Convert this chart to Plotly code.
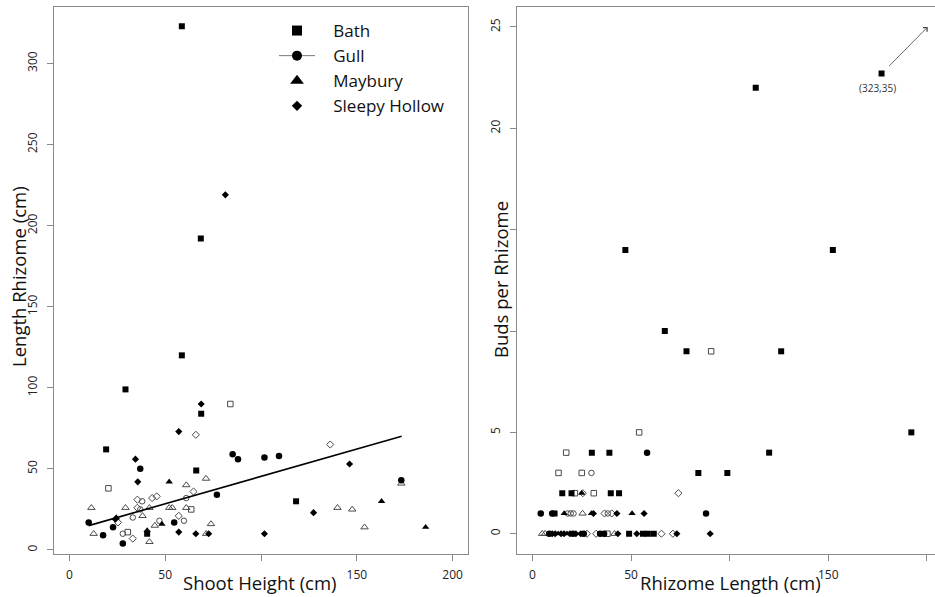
import plotly.graph_objects as go

# ---------------- data: left panel (Shoot Height vs Length Rhizome) ----------------
bath_f_x = [58.7, 68.6, 58.7, 29.3, 68.8, 19.2, 66.2, 118.3, 40.6]
bath_f_y = [323, 192, 120, 99, 84, 62, 49, 30, 10]
bath_o_x = [84.0, 20.4, 63.6, 30.5]
bath_o_y = [90, 38, 25, 11]
gull_f_x = [10.1, 17.6, 22.8, 27.9, 37.0, 54.7, 77.0, 85.2, 88.0, 101.8, 109.4, 173.2]
gull_f_y = [17, 9, 14, 4, 50, 17, 34, 59, 56, 57, 58, 43]
gull_o_x = [61.0, 38.0, 37.0, 33.1, 27.9, 47.0, 59.8]
gull_o_y = [32, 30, 25, 20, 10, 18, 18]
may_f_x = [52.1, 24.5, 40.6, 48.3, 162.9, 185.9]
may_f_y = [42, 20, 12, 16, 30, 14]
may_o_x = [71.3, 61.0, 11.5, 29.3, 41.8, 52.1, 53.7, 61.0, 38.2, 12.7, 41.8, 44.6,
           73.9, 71.4, 173.2, 139.9, 147.6, 154.0]
may_o_y = [44, 40, 26, 26, 26, 26, 26, 26, 21, 10, 5, 15, 16, 10, 41, 26, 25, 14]
sh_f_x = [81.4, 68.8, 57.1, 34.5, 35.7, 24.0, 57.1, 66.0, 72.7, 146.2, 127.4, 101.8]
sh_f_y = [219, 90, 73, 56, 42, 19, 11, 10, 10, 53, 23, 10]
sh_o_x = [66.0, 64.8, 35.5, 43.2, 45.6, 35.5, 25.4, 33.1, 57.1, 136.1]
sh_o_y = [71, 36, 31, 32, 33, 26, 17, 7, 21, 65]
fit_x = [10.1, 173.4]
fit_y = [15.0, 70.1]

# ---------------- data: right panel (Rhizome Length vs Buds per Rhizome) ----------------
r_bath_f_x = [177.0, 113.2, 152.3, 47.1, 67.1, 78.1, 126.1, 192.1, 120.0, 30.1, 39.0, 84.1,
              98.8, 15.1, 19.8, 39.7, 43.9, 11.2, 49.0, 56.0, 58.5, 61.5]
r_bath_f_y = [22.7, 22, 14, 14, 10, 9, 9, 5, 4, 4, 4, 3, 3, 2, 2, 2, 2, 1, 0, 0, 0, 0]
r_bath_o_x = [90.6, 54.1, 17.1, 13.2, 25.0, 21.5, 31.1, 38.0]
r_bath_o_y = [9, 5, 4, 3, 3, 2, 2, 0]
r_gull_f_x = [58.1, 4.2, 10.0, 88.0, 8.5, 20.5, 26.0, 34.3, 36.3]
r_gull_f_y = [4, 1, 1, 1, 0, 0, 0, 0, 0]
r_gull_o_x = [29.9, 17.9, 19.4, 20.8, 38.2]
r_gull_o_y = [3, 1, 1, 1, 1]
r_may_f_x = [25.0, 16.1, 29.9, 50.5, 13.0, 17.5]
r_may_f_y = [2, 1, 1, 1, 0, 0]
r_may_o_x = [25.4, 4.9, 6.4, 41.6]
r_may_o_y = [1, 0, 0, 0]
r_sh_f_x = [30.9, 42.8, 56.6, 90.1, 10.0, 11.5, 14.5, 16.0, 19.0, 22.0, 24.5, 43.3, 52.9, 73.2]
r_sh_f_y = [1, 1, 1, 0, 0, 0, 0, 0, 0, 0, 0, 0, 0, 0]
r_sh_o_x = [74.0, 25.5, 36.5, 40.2, 27.6, 32.3, 65.4, 71.2]
r_sh_o_y = [2, 2, 1, 1, 0, 0, 0, 0]

outlier_label = "(323,35)"
outlier_at = (175.1, 22.0)
arrow_tail = (180.1, 23.0)
arrow_head = (200.4, 25.0)

site_names = ["Bath", "Gull", "Maybury", "Sleepy Hollow"]

# tick values / labels (labels hidden where the axis titles sit on top of them)
x_ticks = [0, 50, 100, 150, 200]
x_tick_text = ["0", "50", "", "150", "200"]
y1_ticks = [0, 50, 100, 150, 200, 250, 300]
y1_tick_text = ["0", "50", "100", "150", "200", "250", "300"]
y2_ticks = [0, 5, 10, 15, 20, 25]
y2_tick_text = ["0", "5", "", "", "20", "25"]

FONT = "Open Sans"
AX = "#8a8a8a"
INK = "#111111"
OPEN = "#4a4a4a"

fig = go.Figure()

def pts(x, y, sym, size, xa, ya, filled=True):
    if filled:
        marker = dict(symbol=sym, size=size, color="black", line=dict(width=0))
    else:
        marker = dict(symbol=sym + "-open", size=size, color=OPEN, line=dict(width=1, color=OPEN))
    fig.add_trace(go.Scatter(x=x, y=y, mode="markers", marker=marker,
                             xaxis=xa, yaxis=ya, showlegend=False, hoverinfo="x+y"))

# left panel
pts(may_o_x, may_o_y, "triangle-up", 6.5, "x", "y", False)
pts(sh_o_x, sh_o_y, "diamond", 5.5, "x", "y", False)
pts(gull_o_x, gull_o_y, "circle", 5.5, "x", "y", False)
pts(bath_o_x, bath_o_y, "square", 5.5, "x", "y", False)
pts(bath_f_x, bath_f_y, "square", 6, "x", "y")
pts(gull_f_x, gull_f_y, "circle", 6.5, "x", "y")
pts(may_f_x, may_f_y, "triangle-up", 6.5, "x", "y")
pts(sh_f_x, sh_f_y, "diamond", 5.5, "x", "y")
fig.add_trace(go.Scatter(x=fit_x, y=fit_y, mode="lines", line=dict(color="black", width=1.6),
                         xaxis="x", yaxis="y", showlegend=False, hoverinfo="skip"))

# right panel
pts(r_may_o_x, r_may_o_y, "triangle-up", 6.5, "x2", "y2", False)
pts(r_sh_o_x, r_sh_o_y, "diamond", 5.5, "x2", "y2", False)
pts(r_gull_o_x, r_gull_o_y, "circle", 5.5, "x2", "y2", False)
pts(r_bath_o_x, r_bath_o_y, "square", 5.5, "x2", "y2", False)
pts(r_bath_f_x, r_bath_f_y, "square", 6, "x2", "y2")
pts(r_gull_f_x, r_gull_f_y, "circle", 6.5, "x2", "y2")
pts(r_may_f_x, r_may_f_y, "triangle-up", 6.5, "x2", "y2")
pts(r_sh_f_x, r_sh_f_y, "diamond", 5.5, "x2", "y2")

# legend entries
leg_syms = ["square", "circle", "triangle-up", "diamond"]
leg_sizes = [10, 10, 12, 8]
for i, (nm, sy, sz) in enumerate(zip(site_names, leg_syms, leg_sizes)):
    fig.add_trace(go.Scatter(
        x=[None], y=[None], name="\u00a0\u00a0\u00a0" + nm,
        mode="lines+markers" if nm == "Gull" else "markers",
        line=dict(color="#777777", width=1),
        marker=dict(symbol=sy, size=sz, color="black"),
        xaxis="x", yaxis="y", showlegend=True))

W, H = 935, 597
def px(v):
    return v / W
def py(v):
    return (H - v) / H

ydom = [py(554), py(6.7)]
axis_common = dict(showline=True, linecolor=AX, linewidth=1.2, ticks="outside",
                   ticklen=6, tickcolor=AX, tickwidth=1, showgrid=False, zeroline=False,
                   automargin=False, tickmode="array",
                   tickfont=dict(family=FONT, size=12, color="#222222"))

fig.update_layout(
    width=W, height=H, margin=dict(l=0, r=0, t=0, b=0, autoexpand=False),
    paper_bgcolor="white", plot_bgcolor="white",
    font=dict(family=FONT, color=INK),
    xaxis=dict(domain=[px(54), px(468)], range=[-8, 208], tickvals=x_ticks, ticktext=x_tick_text,
               mirror=True, anchor="y", ticklabelstandoff=3, **axis_common),
    yaxis=dict(domain=ydom, range=[-2.5, 335], tickvals=y1_ticks, ticktext=y1_tick_text,
               mirror=True, anchor="x", tickangle=-90, ticklabelstandoff=5, **axis_common),
    xaxis2=dict(domain=[px(516.7), 1.0], range=[-8, 204.1], tickvals=x_ticks, ticktext=x_tick_text,
                mirror=True, anchor="y2", ticklabelstandoff=3, **axis_common),
    yaxis2=dict(domain=ydom, range=[-1, 26], tickvals=y2_ticks, ticktext=y2_tick_text,
                mirror=False, anchor="x2", tickangle=-90, ticklabelstandoff=5, **axis_common),
    legend=dict(x=px(274), y=py(13), xanchor="left", yanchor="top",
                font=dict(family=FONT, size=17, color=INK), bgcolor="rgba(0,0,0,0)",
                itemwidth=36, itemclick=False),
    showlegend=True,
)

ann = []
def title(text, x, y, angle=0, size=18.5):
    ann.append(dict(text=text, x=px(x), y=py(y), xref="paper", yref="paper",
                    showarrow=False, textangle=angle, xanchor="center", yanchor="middle",
                    font=dict(family=FONT, size=size, color=INK)))

title("Shoot Height (cm)", 260, 582)
title("Rhizome Length (cm)", 730, 582)
title("Length Rhizome (cm)", 18, 277, -90)
title("Buds per Rhizome", 500, 280, -90)

ann.append(dict(x=arrow_head[0], y=arrow_head[1], ax=arrow_tail[0], ay=arrow_tail[1],
                xref="x2", yref="y2", axref="x2", ayref="y2", text="", showarrow=True,
                arrowhead=4, arrowsize=1.4, arrowwidth=0.8, arrowcolor="#444444"))
ann.append(dict(x=outlier_at[0], y=outlier_at[1], xref="x2", yref="y2", text=outlier_label,
                showarrow=False, font=dict(family=FONT, size=10, color="#333333")))
fig.update_layout(annotations=ann)

fig.write_html("out.html", config={"displayModeBar": False},
               post_script="document.body.style.margin='0px';document.body.style.overflow='hidden';")
